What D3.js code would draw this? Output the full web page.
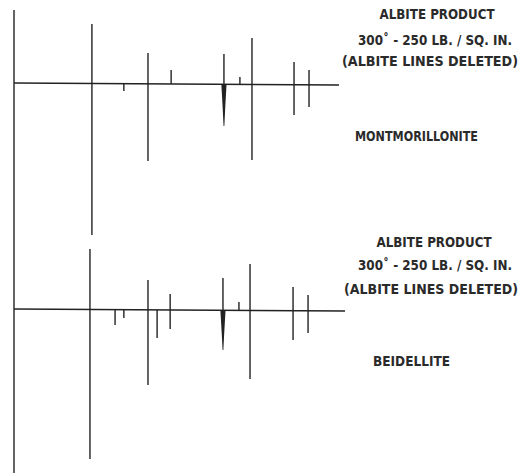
<!DOCTYPE html>
<head>
  <meta charset="utf-8">
  <title>Albite product vs clay patterns</title>
  <script src="https://d3js.org/d3.v7.min.js"></script>
  <style>
    body { margin: 0; background: #fff; }
    #chart { width: 522px; height: 474px; display: block; }
    .stick { stroke: #222; stroke-width: 1.4px; }
    .base { stroke: #222; stroke-width: 1.6px; }
    .label { font-family: "DejaVu Sans Condensed", "DejaVu Sans", sans-serif; font-weight: bold; fill: #2a2a2a; font-size: 14px; }
  </style>
</head>
<body>
  <svg id="chart"></svg>
  <script>
    // peak positions (relative scale, 0-100) and line lengths above / below the baseline
    var topPos   = [0,   23.9, 33.7, 41.1, 48.2, 64.4, 69.3, 73.0, 85.9, 90.5];
    var topUp    = [74,  60,   0,    31,   14,   30,   7,    46,   22,   14];
    var topDown  = [226, 151,  7,    77,   0,    42,   0,    76,   31,   23];
    var topWide  = [0,   0,    0,    0,    0,    1,    0,    0,    0,    0];

    var botPos   = [0,    23.3, 31.0, 33.7, 41.1, 43.9, 47.9, 64.1, 69.0, 72.4, 85.6, 90.2];
    var botUp    = [0,    61,   0,    0,    30,   0,    16,   32,   8,    46,   23,   15];
    var botDown  = [163,  149,  15,   8,    75,   28,   19,   40,   0,    69,   30,   23];
    var botWide  = [0,    0,    0,    0,    0,    0,    0,    1,    0,    0,    0,    0];

    var topText = ["ALBITE PRODUCT", "300\u02DA - 250 LB. / SQ. IN.", "(ALBITE LINES DELETED)"];
    var topName = "MONTMORILLONITE";
    var botText = ["ALBITE PRODUCT", "300\u02DA - 250 LB. / SQ. IN.", "(ALBITE LINES DELETED)"];
    var botName = "BEIDELLITE";

    var svg = d3.select("#chart");

    var x = d3.scaleLinear().domain([0, 100]).range([14, 340]);
    var len = d3.scaleLinear().domain([0, 100]).range([0, 100]);

    function panel(base, baseEnd, pos, up, down, wide) {
      var g = svg.append("g");
      g.append("line").attr("class", "base")
        .attr("x1", x(0)).attr("x2", baseEnd)
        .attr("y1", base - 1).attr("y2", base + 1);

      var rows = pos.map(function(p, i) {
        return {p: p, up: up[i], down: down[i], wide: wide[i]};
      });

      g.selectAll(".stick")
        .data(rows.filter(function(d) { return !d.wide; }))
        .enter().append("line")
        .attr("class", "stick")
        .attr("x1", function(d) { return x(d.p); })
        .attr("x2", function(d) { return x(d.p); })
        .attr("y1", function(d) { return base - len(d.up); })
        .attr("y2", function(d) { return base + len(d.down); });

      // broad line drawn as a wedge below, thin stick above
      var w = rows.filter(function(d) { return d.wide; });
      g.selectAll(".wup").data(w).enter().append("line")
        .attr("class", "stick")
        .attr("x1", function(d) { return x(d.p); })
        .attr("x2", function(d) { return x(d.p); })
        .attr("y1", function(d) { return base - len(d.up); })
        .attr("y2", base);
      g.selectAll(".wedge").data(w).enter().append("path")
        .attr("fill", "#222")
        .attr("d", function(d) {
          var cx = x(d.p), b = base + len(d.down);
          return "M" + (cx - 2.6) + "," + base + "L" + (cx + 2.6) + "," + base +
                 "L" + (cx + 1.2) + "," + (base + len(d.down) * 0.6) +
                 "L" + (cx + 0.4) + "," + b + "L" + (cx - 0.4) + "," + b +
                 "L" + (cx - 1.2) + "," + (base + len(d.down) * 0.6) + "Z";
        });
    }

    panel(84, 339, topPos, topUp, topDown, topWide);
    panel(310, 345, botPos, botUp, botDown, botWide);

    function block(lines, xs, ys, widths, name, nameX, nameY, nameW) {
      lines.forEach(function(t, i) {
        svg.append("text").attr("class", "label")
          .attr("x", xs[i]).attr("y", ys[i])
          .attr("text-anchor", "middle")
          .attr("textLength", widths[i]).attr("lengthAdjust", "spacingAndGlyphs")
          .text(t);
      });
      svg.append("text").attr("class", "label")
        .attr("x", nameX).attr("y", nameY)
        .attr("textLength", nameW).attr("lengthAdjust", "spacingAndGlyphs")
        .text(name);
    }

    block(topText, [437, 435, 430], [19, 45, 66], [115, 154, 176], topName, 355, 141, 123);
    block(botText, [434, 435, 431], [247, 270, 294], [115, 154, 174], botName, 373, 366, 77);
  </script>
</body>
</html>
